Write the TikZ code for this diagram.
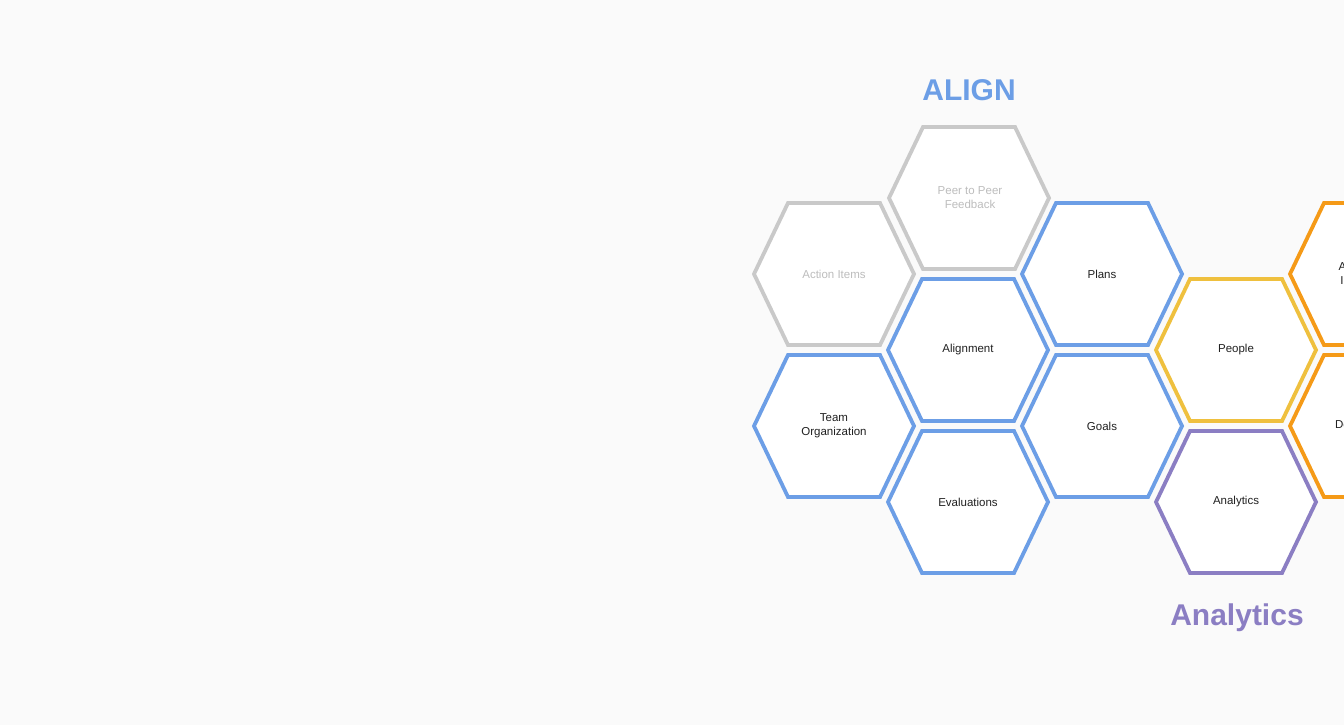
\documentclass[tikz,border=0pt]{standalone}
\usepackage{fontspec}
\setmainfont{Liberation Sans}
\definecolor{pagebg}{HTML}{FAFAFA}
\definecolor{alignblue}{HTML}{6C9EE6}
\definecolor{mutedgrey}{HTML}{C9C9C9}
\definecolor{greytext}{HTML}{BDBDBD}
\definecolor{peopleyellow}{HTML}{EFC03E}
\definecolor{devorange}{HTML}{F59A17}
\definecolor{analyticspurple}{HTML}{8B7EC3}
\definecolor{celltextcol}{HTML}{212121}

\begin{document}
\begin{tikzpicture}[x=1pt,y=-1pt,
  cell/.style={fill=white, line width=3.8pt, line join=miter},
  celltext/.style={align=center, font=\fontsize{11.5}{14}\selectfont, text=celltextcol},
  faded/.style={text=greytext},
  title/.style={anchor=base, font=\fontsize{30}{36}\selectfont\bfseries}]
\fill[pagebg] (0,0) rectangle (1344,725);
\useasboundingbox (0,0) rectangle (1344,725);
\clip (0,0) rectangle (1344,725);

% honeycomb cells: centre x / centre y / outline colour
\foreach \cx/\cy/\col in {834/274/mutedgrey, 969/198/mutedgrey,
    834/426/alignblue, 968/350/alignblue, 968/502/alignblue,
    1102/274/alignblue, 1102/426/alignblue,
    1236/350/peopleyellow, 1236/502/analyticspurple,
    1370/274/devorange, 1370/426/devorange}
  \draw[cell, draw=\col] (\cx-80,\cy) -- (\cx-46,\cy-71) -- (\cx+46,\cy-71)
    -- (\cx+80,\cy) -- (\cx+46,\cy+71) -- (\cx-46,\cy+71) -- cycle;

\node[celltext, faded] (actions) at (834,274) {Action Items};
\node[celltext, faded] (feedback) at (970,198) {Peer to Peer\\Feedback};
\node[celltext] (team) at (834,426) {Team\\Organization};
\node[celltext] (alignment) at (968,350) {Alignment};
\node[celltext] (evaluations) at (968,502) {Evaluations};
\node[celltext] (plans) at (1102,274) {Plans};
\node[celltext] (goals) at (1102,426) {Goals};
\node[celltext] (people) at (1236,350) {People};
\node[celltext] (analytics) at (1236,502) {Analytics};
\node[celltext] (assessment) at (1370,274) {Assessment\\Interactions};
\node[celltext] (development) at (1369,426) {Development};

\node[title, text=alignblue] (aligntitle) at (969,100) {ALIGN};
\node[title, text=analyticspurple] (analyticstitle) at (1237,625) {Analytics};
\end{tikzpicture}
\end{document}
